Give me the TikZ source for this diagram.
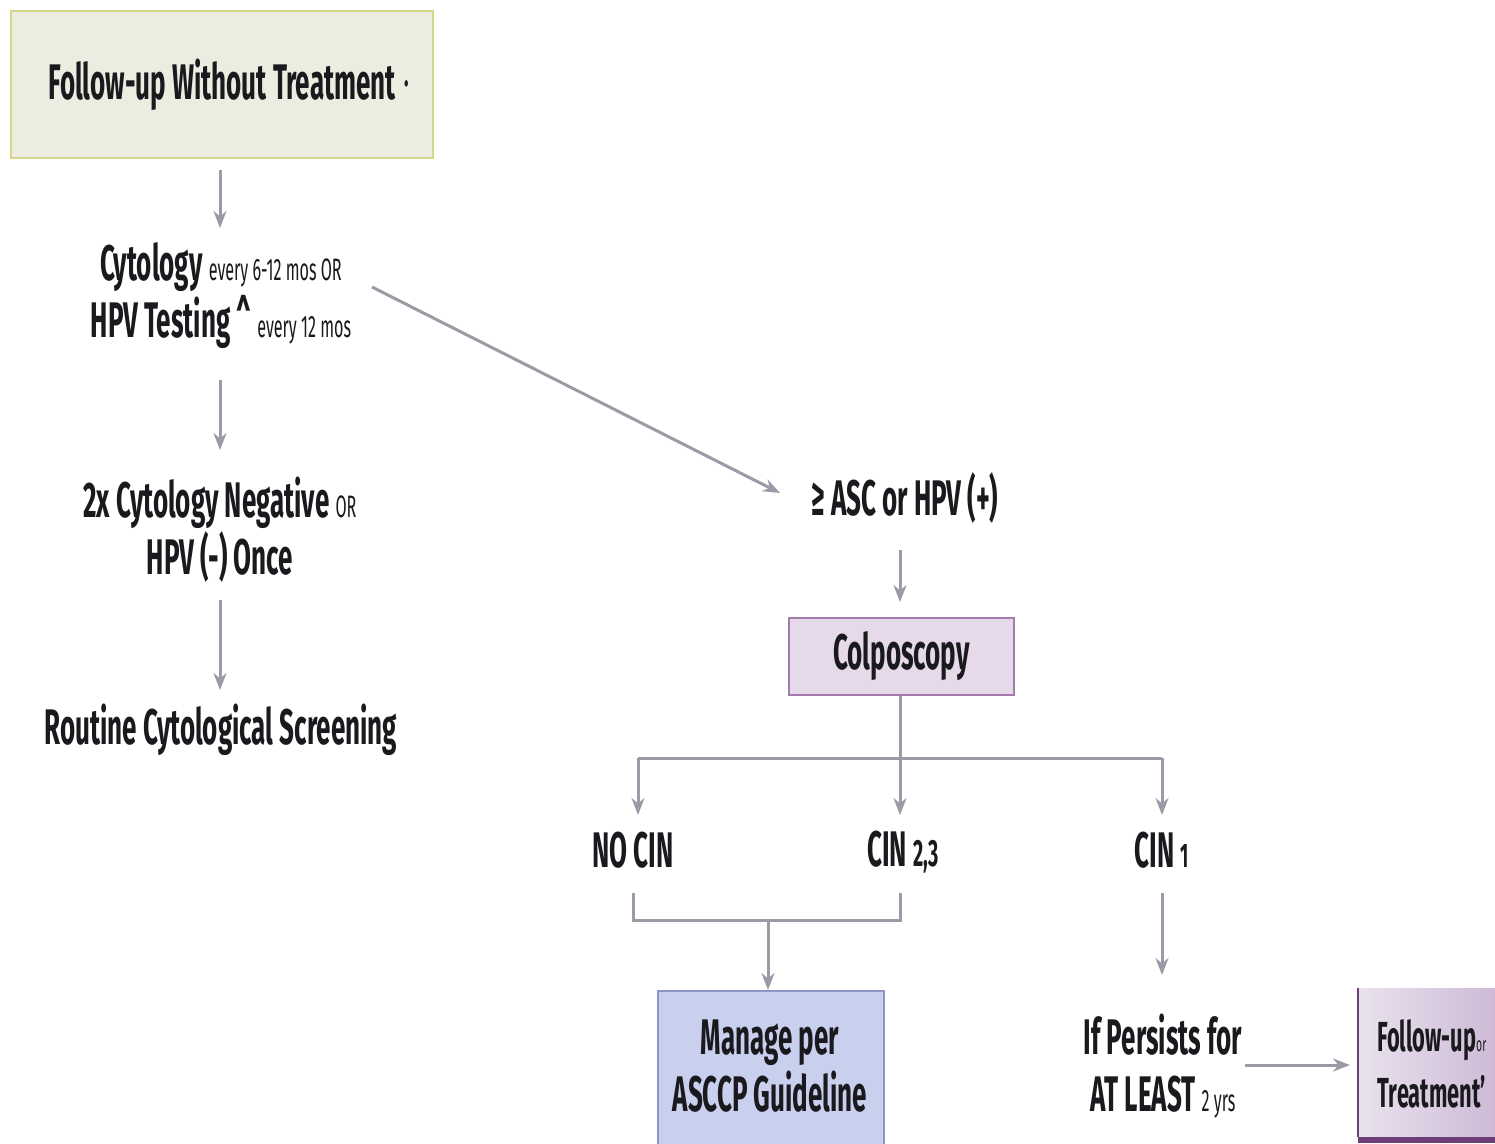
\documentclass[tikz,border=0pt]{standalone}
\usepackage{fontspec}
\setmainfont{Fira Sans}[FakeStretch=0.52]
\usetikzlibrary{arrows.meta}
\definecolor{linegray}{HTML}{9C9AA6}
\definecolor{inkdark}{HTML}{1A1A1E}
\definecolor{sandfill}{HTML}{ECEDE0}
\definecolor{sandline}{HTML}{D6D68A}
\definecolor{lilacfill}{HTML}{E6D9EA}
\definecolor{lilacline}{HTML}{A57BAE}
\definecolor{bluefill}{HTML}{C9D0EE}
\definecolor{blueline}{HTML}{8E96C8}
\definecolor{plumlight}{HTML}{E9E2EE}
\definecolor{plumdark}{HTML}{C6AECF}
\definecolor{plumline}{HTML}{6E3E78}
\newcommand{\bigtxt}{\fontsize{50}{57}\selectfont\bfseries}
\newcommand{\smalltxt}{\fontsize{31}{33}\selectfont\mdseries}
\begin{document}
\begin{tikzpicture}[x=1pt,y=-1pt,
  conn/.style={draw=linegray, line width=3pt},
  arr/.style={conn, -{Stealth[length=17pt,width=13pt]}},
  label/.style={text=inkdark, inner sep=0pt, align=center, font=\bigtxt},
  boxed/.style={label, draw, line width=2pt, anchor=north west}
]
\useasboundingbox (0,0) rectangle (1495,1143);
\clip (0,0) rectangle (1495,1143);
\fill[white] (0,0) rectangle (1495,1143);

% boxes
\node[boxed, fill=sandfill, draw=sandline, minimum width=422pt, minimum height=147pt] (fwt) at (10,10) {Follow-up Without Treatment};
\node[text=inkdark, font=\fontsize{36}{36}\selectfont\bfseries, inner sep=0pt] (dot) at (407,84) {.};
\node[boxed, fill=lilacfill, draw=lilacline, minimum width=225pt, minimum height=77pt] (colpo) at (788,617) {Colposcopy};
\node[boxed, fill=bluefill, draw=blueline, minimum width=226pt, minimum height=160pt] (manage) at (657,990) {};
\node[label] (managetxt) at (770,1066) {Manage per\\ASCCP Guideline};
\shade[left color=plumlight, right color=plumdark] (1358,988) rectangle (1540,1137);
\draw[plumline, line width=2pt] (1358,988) -- (1358,1137);
\draw[plumline, line width=6pt] (1358,1140) -- (1540,1140);
\node[label, anchor=west, font=\fontsize{42}{56}\selectfont\bfseries] (fot) at (1377,1064)
  {Follow-up{\fontsize{20}{20}\selectfont\mdseries or}\\Treatment'};

% text nodes
\node[label] (cyto) at (221,296) {Cytology {\smalltxt every 6-12 mos OR}\\HPV Testing \textasciicircum\ {\smalltxt every 12 mos}};
\node[label] (neg) at (220,530) {2x Cytology Negative {\smalltxt OR}\\HPV (-) Once};
\node[label] (routine) at (221,730) {Routine Cytological Screening};
\node[label] (asc) at (905,498) {≥ ASC or HPV (+)};
\node[label] (nocin) at (633,850) {NO CIN};
\node[label] (cin23) at (903,852) {CIN {\fontsize{38}{38}\selectfont\bfseries 2,3}};
\node[label] (cin1) at (1162,850) {CIN {\fontsize{34}{34}\selectfont\bfseries 1}};
\node[label] (persist) at (1163,1066) {If Persists for\\AT LEAST {\smalltxt 2 yrs}};

% left column
\draw[arr] (220,170) -- (220,228);
\draw[arr] (220,380) -- (220,450);
\draw[arr] (220,600) -- (220,690);
% to abnormal result
\draw[arr] (372,287) -- (780,493);
\draw[arr] (900,550) -- (900,602);

% split below colposcopy
\coordinate (split) at (900,758);
\draw[conn] (colpo.south -| split) -- (split);
\draw[conn] (638,758) -- (1162,758);
\draw[arr] (638,758) -- (638,815);
\draw[arr] (split) -- (900,815);
\draw[arr] (1162,758) -- (1162,815);

% merge into management
\draw[conn] (633,893) -- (633,920) -- (900,920) -- (900,893);
\draw[arr] (768,920) -- (manage.north -| 768,0);
\draw[arr] (1162,893) -- (1162,975);
\draw[arr] (1245,1065) -- (1350,1065);
\end{tikzpicture}
\end{document}
